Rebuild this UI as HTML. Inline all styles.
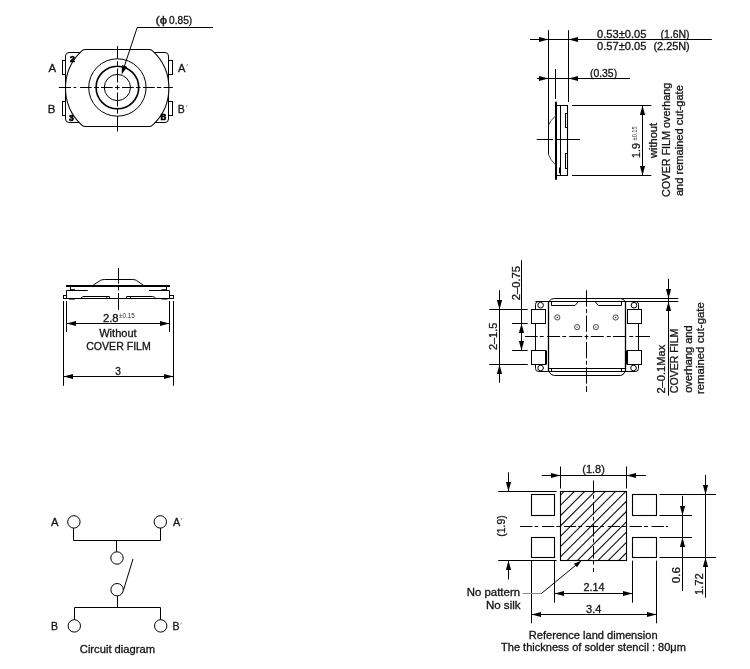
<!DOCTYPE html>
<html><head><meta charset="utf-8"><style>
html,body{margin:0;padding:0;background:#fff;width:750px;height:669px;overflow:hidden}
svg{display:block;will-change:transform}
text{font-family:"Liberation Sans",sans-serif}
</style></head><body>
<svg width="750" height="669" viewBox="0 0 750 669">
<rect width="750" height="669" fill="#fff"/>
<rect x="65.5" y="52.5" width="103" height="70" fill="none" stroke="#000" stroke-width="1" rx="3.5"/>
<rect x="62.5" y="60.5" width="3.0" height="14.0" fill="none" stroke="#000" stroke-width="1"/>
<rect x="62.5" y="101.5" width="3.0" height="14.0" fill="none" stroke="#000" stroke-width="1"/>
<rect x="168.5" y="60.5" width="4.0" height="14.0" fill="none" stroke="#000" stroke-width="1"/>
<rect x="168.5" y="101.5" width="4.0" height="14.0" fill="none" stroke="#000" stroke-width="1"/>
<path d="M 85 49.5 L 149.4 49.5 Q 151.4 49.5 153.4 51.6 A 50.5 50.5 0 0 1 153.4 124.4 Q 151.4 126.5 149.4 126.5 L 85 126.5 Q 83 126.5 81 124.4 A 50.5 50.5 0 0 1 81 51.6 Q 83 49.5 85 49.5 Z" fill="#fff" stroke="#000" stroke-width="1.05"/>
<circle cx="117.4" cy="87.5" r="28.7" fill="none" stroke="#000" stroke-width="1"/>
<circle cx="117.4" cy="87.5" r="21.3" fill="none" stroke="#000" stroke-width="1.6"/>
<circle cx="117.4" cy="87.5" r="13.1" fill="none" stroke="#000" stroke-width="1"/>
<line x1="58.9" y1="87.5" x2="71" y2="87.5" stroke="#000" stroke-width="1"/>
<line x1="73.6" y1="87.5" x2="76.2" y2="87.5" stroke="#000" stroke-width="1"/>
<line x1="80.1" y1="87.5" x2="91.7" y2="87.5" stroke="#000" stroke-width="1"/>
<line x1="94.1" y1="87.5" x2="98.9" y2="87.5" stroke="#000" stroke-width="1"/>
<line x1="101" y1="87.5" x2="112.7" y2="87.5" stroke="#000" stroke-width="1"/>
<line x1="115.1" y1="87.5" x2="119.6" y2="87.5" stroke="#000" stroke-width="1"/>
<line x1="122.1" y1="87.5" x2="133.8" y2="87.5" stroke="#000" stroke-width="1"/>
<line x1="136" y1="87.5" x2="140.6" y2="87.5" stroke="#000" stroke-width="1"/>
<line x1="143" y1="87.5" x2="154.7" y2="87.5" stroke="#000" stroke-width="1"/>
<line x1="156.9" y1="87.5" x2="161.3" y2="87.5" stroke="#000" stroke-width="1"/>
<line x1="163.6" y1="87.5" x2="172.8" y2="87.5" stroke="#000" stroke-width="1"/>
<line x1="117.5" y1="46.1" x2="117.5" y2="58.8" stroke="#000" stroke-width="1"/>
<line x1="117.5" y1="61.3" x2="117.5" y2="65.7" stroke="#000" stroke-width="1"/>
<line x1="117.5" y1="68.5" x2="117.5" y2="82.4" stroke="#000" stroke-width="1"/>
<line x1="117.5" y1="85.2" x2="117.5" y2="89.8" stroke="#000" stroke-width="1"/>
<line x1="117.5" y1="92.6" x2="117.5" y2="106.5" stroke="#000" stroke-width="1"/>
<line x1="117.5" y1="109.1" x2="117.5" y2="113.6" stroke="#000" stroke-width="1"/>
<line x1="117.5" y1="116.2" x2="117.5" y2="131.5" stroke="#000" stroke-width="1"/>
<line x1="137.2" y1="27.5" x2="213" y2="27.5" stroke="#000" stroke-width="1"/>
<line x1="137.2" y1="27.5" x2="123.6" y2="68.6" stroke="#000" stroke-width="1"/>
<polygon points="121.70,74.40 121.87,64.98 127.18,66.73" fill="#000"/>
<line x1="548.5" y1="30.2" x2="548.5" y2="154.5" stroke="#000" stroke-width="1"/>
<line x1="568.5" y1="30.2" x2="568.5" y2="102" stroke="#000" stroke-width="1"/>
<line x1="530" y1="39.5" x2="711.8" y2="39.5" stroke="#000" stroke-width="1"/>
<polygon points="548.50,39.50 539.00,42.10 539.00,36.90" fill="#000"/>
<polygon points="568.50,39.50 578.00,36.90 578.00,42.10" fill="#000"/>
<line x1="537" y1="78.5" x2="630" y2="78.5" stroke="#000" stroke-width="1"/>
<polygon points="548.50,78.50 539.00,81.10 539.00,75.90" fill="#000"/>
<polygon points="568.50,78.50 578.00,75.90 578.00,81.10" fill="#000"/>
<line x1="555.5" y1="69" x2="555.5" y2="99" stroke="#000" stroke-width="1"/>
<line x1="556.0" y1="101.8" x2="556.0" y2="179.7" stroke="#000" stroke-width="2"/>
<path d="M 556 105.5 L 567.5 105.5 L 567.5 175.5 L 556 175.5" fill="none" stroke="#000" stroke-width="1.1"/>
<line x1="560.5" y1="105.5" x2="560.5" y2="175.5" stroke="#000" stroke-width="1"/>
<line x1="559.5" y1="167.5" x2="559.5" y2="173.3" stroke="#000" stroke-width="1"/>
<rect x="565.5" y="113.5" width="2.0" height="14.0" fill="none" stroke="#000" stroke-width="1"/>
<rect x="565.5" y="153.5" width="2.0" height="15.0" fill="none" stroke="#000" stroke-width="1"/>
<path d="M 555.8 115.8 Q 550 120.5 548.5 125.3 M 548.5 154.5 Q 550 159.5 555.8 165.3" fill="none" stroke="#444" stroke-width="1"/>
<line x1="536.7" y1="139.5" x2="553" y2="139.5" stroke="#000" stroke-width="1"/>
<line x1="557" y1="139.5" x2="580" y2="139.5" stroke="#000" stroke-width="1"/>
<line x1="572.1" y1="105.5" x2="651.3" y2="105.5" stroke="#000" stroke-width="1"/>
<line x1="572.1" y1="175.5" x2="651.3" y2="175.5" stroke="#000" stroke-width="1"/>
<line x1="642.5" y1="105.5" x2="642.5" y2="175.5" stroke="#000" stroke-width="1"/>
<polygon points="642.50,105.50 645.10,115.00 639.90,115.00" fill="#000"/>
<polygon points="642.50,175.50 639.90,166.00 645.10,166.00" fill="#000"/>
<line x1="118.5" y1="267.9" x2="118.5" y2="283.7" stroke="#000" stroke-width="1"/>
<line x1="118.5" y1="285.5" x2="118.5" y2="290.5" stroke="#000" stroke-width="1"/>
<line x1="118.5" y1="293" x2="118.5" y2="309.9" stroke="#000" stroke-width="1"/>
<line x1="66" y1="286.0" x2="170" y2="286.0" stroke="#000" stroke-width="2"/>
<path d="M 93.3 285 L 100.5 280.4 Q 102 279.5 104.5 279.5 L 132.7 279.5 Q 135 279.5 136.5 280.4 L 143 285" fill="none" stroke="#000" stroke-width="1"/>
<line x1="70.5" y1="287" x2="70.5" y2="290.5" stroke="#000" stroke-width="1"/>
<line x1="66.5" y1="290.5" x2="87.7" y2="290.5" stroke="#000" stroke-width="1"/>
<line x1="70.5" y1="289.8" x2="75" y2="289.8" stroke="#000" stroke-width="1.2"/>
<line x1="149" y1="290.5" x2="169.5" y2="290.5" stroke="#000" stroke-width="1"/>
<line x1="166.5" y1="287" x2="166.5" y2="290.5" stroke="#000" stroke-width="1"/>
<line x1="161.5" y1="289.8" x2="166.5" y2="289.8" stroke="#000" stroke-width="1.2"/>
<path d="M 66.5 290.5 L 66.5 298.5 L 169.5 298.5 L 169.5 290.5" fill="none" stroke="#000" stroke-width="1"/>
<rect x="63.5" y="295.5" width="3.0" height="3.0" fill="none" stroke="#000" stroke-width="1"/>
<rect x="169.5" y="295.5" width="4.0" height="3.0" fill="none" stroke="#000" stroke-width="1"/>
<line x1="69" y1="298.8" x2="75" y2="298.8" stroke="#000" stroke-width="1.5"/>
<line x1="161.5" y1="298.8" x2="167.5" y2="298.8" stroke="#000" stroke-width="1.5"/>
<path d="M 81 298.2 Q 82 296.5 84 296.5 L 109.5 296.5 L 109.5 298.5 M 106.8 296.5 L 106.8 298.5" fill="none" stroke="#000" stroke-width="1"/>
<path d="M 155.5 298.2 Q 154.5 296.5 152.5 296.5 L 126.5 296.5 L 126.5 298.5 M 130.6 296.5 L 130.6 298.5" fill="none" stroke="#000" stroke-width="1"/>
<line x1="63.5" y1="301" x2="63.5" y2="385.8" stroke="#000" stroke-width="1"/>
<line x1="173.5" y1="301" x2="173.5" y2="385.8" stroke="#000" stroke-width="1"/>
<line x1="66.5" y1="301" x2="66.5" y2="332" stroke="#000" stroke-width="1"/>
<line x1="169.5" y1="301" x2="169.5" y2="332" stroke="#000" stroke-width="1"/>
<line x1="66.5" y1="323.5" x2="169.5" y2="323.5" stroke="#000" stroke-width="1"/>
<polygon points="66.50,323.50 76.00,320.90 76.00,326.10" fill="#000"/>
<polygon points="169.50,323.50 160.00,326.10 160.00,320.90" fill="#000"/>
<line x1="63.5" y1="376.5" x2="173.5" y2="376.5" stroke="#000" stroke-width="1"/>
<polygon points="63.50,376.50 73.00,373.90 73.00,379.10" fill="#000"/>
<polygon points="173.50,376.50 164.00,379.10 164.00,373.90" fill="#000"/>
<path d="M 548.5 301.5 L 538.5 301.5 Q 535.5 301.5 535.5 304.5 L 535.5 368.5 Q 535.5 371.5 538.5 371.5 L 548.5 371.5" fill="none" stroke="#000" stroke-width="1"/>
<path d="M 625.5 301.5 L 635.5 301.5 Q 638.5 301.5 638.5 304.5 L 638.5 368.5 Q 638.5 371.5 635.5 371.5 L 625.5 371.5" fill="none" stroke="#000" stroke-width="1"/>
<circle cx="540.6" cy="305.2" r="2.8" fill="none" stroke="#000" stroke-width="1"/>
<circle cx="540.6" cy="368" r="2.8" fill="none" stroke="#000" stroke-width="1"/>
<circle cx="634" cy="305.2" r="2.8" fill="none" stroke="#000" stroke-width="1"/>
<circle cx="633.5" cy="368" r="2.8" fill="none" stroke="#000" stroke-width="1"/>
<rect x="531.5" y="309.5" width="14.0" height="14.0" fill="#fff" stroke="#000" stroke-width="1"/>
<rect x="531.5" y="350.5" width="14.0" height="14.0" fill="#fff" stroke="#000" stroke-width="1"/>
<rect x="627.5" y="309.5" width="14.0" height="14.0" fill="#fff" stroke="#000" stroke-width="1"/>
<rect x="627.5" y="350.5" width="14.0" height="14.0" fill="#fff" stroke="#000" stroke-width="1"/>
<line x1="546.5" y1="350.5" x2="546.5" y2="364.5" stroke="#000" stroke-width="1"/>
<line x1="626.5" y1="350.5" x2="626.5" y2="364.5" stroke="#000" stroke-width="1"/>
<line x1="548.5" y1="301.5" x2="548.5" y2="371.5" stroke="#000" stroke-width="1.3"/>
<line x1="625.5" y1="301.5" x2="625.5" y2="371.5" stroke="#000" stroke-width="1.3"/>
<path d="M 548.8 301.5 Q 551 298.5 554.3 298.5 L 620.5 298.5 Q 623.5 298.5 625 301.5" fill="none" stroke="#000" stroke-width="1"/>
<line x1="535.5" y1="301.5" x2="678.3" y2="301.5" stroke="#000" stroke-width="1"/>
<line x1="620.8" y1="298.5" x2="678.3" y2="298.5" stroke="#000" stroke-width="1"/>
<path d="M 551.5 301.5 L 551.5 305.5 L 575 305.5 L 578.5 301.5 M 595 301.5 L 598.5 305.5 L 621.5 305.5 L 621.5 301.5" fill="none" stroke="#000" stroke-width="1"/>
<line x1="548.5" y1="368.5" x2="625.5" y2="368.5" stroke="#000" stroke-width="1"/>
<line x1="548.5" y1="371.5" x2="625.5" y2="371.5" stroke="#000" stroke-width="1"/>
<line x1="551.5" y1="368.5" x2="551.5" y2="371.5" stroke="#000" stroke-width="1"/>
<line x1="621.5" y1="368.5" x2="621.5" y2="371.5" stroke="#000" stroke-width="1"/>
<path d="M 548.8 371.5 Q 551 375.5 554.3 375.5 L 620.5 375.5 Q 623.5 375.5 625 371.5" fill="none" stroke="#000" stroke-width="1"/>
<circle cx="557.3" cy="317.4" r="2.6" fill="none" stroke="#333" stroke-width="0.9"/>
<circle cx="557.3" cy="317.4" r="0.7" fill="#222"/>
<circle cx="577.1" cy="327.1" r="2.6" fill="none" stroke="#333" stroke-width="0.9"/>
<circle cx="577.1" cy="327.1" r="0.7" fill="#222"/>
<circle cx="595.9" cy="327.1" r="2.6" fill="none" stroke="#333" stroke-width="0.9"/>
<circle cx="595.9" cy="327.1" r="0.7" fill="#222"/>
<circle cx="615.6" cy="317.5" r="2.6" fill="none" stroke="#333" stroke-width="0.9"/>
<circle cx="615.6" cy="317.5" r="0.7" fill="#222"/>
<line x1="586.5" y1="290.3" x2="586.5" y2="306.6" stroke="#000" stroke-width="1"/>
<line x1="586.5" y1="309" x2="586.5" y2="312.9" stroke="#000" stroke-width="1"/>
<line x1="586.5" y1="315.6" x2="586.5" y2="331.9" stroke="#000" stroke-width="1"/>
<line x1="586.5" y1="334.6" x2="586.5" y2="339.3" stroke="#000" stroke-width="1"/>
<line x1="586.5" y1="342" x2="586.5" y2="358.3" stroke="#000" stroke-width="1"/>
<line x1="586.5" y1="360.8" x2="586.5" y2="364.7" stroke="#000" stroke-width="1"/>
<line x1="586.5" y1="367.4" x2="586.5" y2="383.7" stroke="#000" stroke-width="1"/>
<line x1="586.5" y1="386.2" x2="586.5" y2="392" stroke="#000" stroke-width="1"/>
<line x1="525" y1="336.5" x2="537.6" y2="336.5" stroke="#000" stroke-width="1"/>
<line x1="539.8" y1="336.5" x2="543.7" y2="336.5" stroke="#000" stroke-width="1"/>
<line x1="547.1" y1="336.5" x2="560.1" y2="336.5" stroke="#000" stroke-width="1"/>
<line x1="562.3" y1="336.5" x2="566.2" y2="336.5" stroke="#000" stroke-width="1"/>
<line x1="569.2" y1="336.5" x2="582.2" y2="336.5" stroke="#000" stroke-width="1"/>
<line x1="584.6" y1="336.5" x2="588.4" y2="336.5" stroke="#000" stroke-width="1"/>
<line x1="590.8" y1="336.5" x2="603.8" y2="336.5" stroke="#000" stroke-width="1"/>
<line x1="606.8" y1="336.5" x2="610.7" y2="336.5" stroke="#000" stroke-width="1"/>
<line x1="612.9" y1="336.5" x2="625.9" y2="336.5" stroke="#000" stroke-width="1"/>
<line x1="629.3" y1="336.5" x2="633.2" y2="336.5" stroke="#000" stroke-width="1"/>
<line x1="635.4" y1="336.5" x2="650" y2="336.5" stroke="#000" stroke-width="1"/>
<line x1="499.5" y1="290.1" x2="499.5" y2="382.7" stroke="#000" stroke-width="1"/>
<polygon points="499.50,309.50 496.90,300.00 502.10,300.00" fill="#000"/>
<polygon points="499.50,364.50 502.10,374.00 496.90,374.00" fill="#000"/>
<line x1="489.2" y1="309.5" x2="527.7" y2="309.5" stroke="#000" stroke-width="1"/>
<line x1="489.2" y1="364.5" x2="527.7" y2="364.5" stroke="#000" stroke-width="1"/>
<line x1="521.5" y1="260.2" x2="521.5" y2="350.5" stroke="#000" stroke-width="1"/>
<polygon points="521.50,323.50 524.10,333.00 518.90,333.00" fill="#000"/>
<polygon points="521.50,350.50 518.90,341.00 524.10,341.00" fill="#000"/>
<line x1="512.1" y1="323.5" x2="527.7" y2="323.5" stroke="#000" stroke-width="1"/>
<line x1="512.1" y1="350.5" x2="527.7" y2="350.5" stroke="#000" stroke-width="1"/>
<line x1="668.5" y1="278.8" x2="668.5" y2="395.6" stroke="#000" stroke-width="1"/>
<polygon points="668.50,298.50 665.90,289.00 671.10,289.00" fill="#000"/>
<polygon points="668.50,301.50 671.10,311.00 665.90,311.00" fill="#000"/>
<circle cx="73.9" cy="521.9" r="6.2" fill="none" stroke="#000" stroke-width="1"/>
<circle cx="160.3" cy="521.9" r="6.2" fill="none" stroke="#000" stroke-width="1"/>
<circle cx="117" cy="558" r="6.2" fill="none" stroke="#000" stroke-width="1"/>
<circle cx="117.1" cy="589.7" r="6.2" fill="none" stroke="#000" stroke-width="1"/>
<circle cx="74.3" cy="625.9" r="6.2" fill="none" stroke="#000" stroke-width="1"/>
<circle cx="160.7" cy="625.9" r="6.2" fill="none" stroke="#000" stroke-width="1"/>
<path d="M 73.5 528 L 73.5 540.5 L 160.5 540.5 L 160.5 528" fill="none" stroke="#000" stroke-width="1"/>
<line x1="116.5" y1="540.5" x2="116.5" y2="551.8" stroke="#000" stroke-width="1"/>
<path d="M 74.5 619.7 L 74.5 607.5 L 160.5 607.5 L 160.5 619.7" fill="none" stroke="#000" stroke-width="1"/>
<line x1="117.5" y1="596" x2="117.5" y2="607.5" stroke="#000" stroke-width="1"/>
<line x1="123.5" y1="590" x2="133" y2="558.9" stroke="#000" stroke-width="1"/>
<defs><clipPath id="hc"><rect x="560.5" y="491.5" width="66" height="69"/></clipPath></defs>
<g clip-path="url(#hc)"><path d="M 383.4 600 L 533.4 450" stroke="#111" stroke-width="1.1"/><path d="M 393.7 600 L 543.7 450" stroke="#111" stroke-width="1.1"/><path d="M 404.0 600 L 554.0 450" stroke="#111" stroke-width="1.1"/><path d="M 414.3 600 L 564.3 450" stroke="#111" stroke-width="1.1"/><path d="M 424.6 600 L 574.6 450" stroke="#111" stroke-width="1.1"/><path d="M 434.9 600 L 584.9 450" stroke="#111" stroke-width="1.1"/><path d="M 445.2 600 L 595.2 450" stroke="#111" stroke-width="1.1"/><path d="M 455.5 600 L 605.5 450" stroke="#111" stroke-width="1.1"/><path d="M 465.8 600 L 615.8 450" stroke="#111" stroke-width="1.1"/><path d="M 476.1 600 L 626.1 450" stroke="#111" stroke-width="1.1"/><path d="M 486.4 600 L 636.4 450" stroke="#111" stroke-width="1.1"/><path d="M 496.7 600 L 646.7 450" stroke="#111" stroke-width="1.1"/><path d="M 507.0 600 L 657.0 450" stroke="#111" stroke-width="1.1"/><path d="M 517.3 600 L 667.3 450" stroke="#111" stroke-width="1.1"/><path d="M 527.6 600 L 677.6 450" stroke="#111" stroke-width="1.1"/><path d="M 537.9 600 L 687.9 450" stroke="#111" stroke-width="1.1"/><path d="M 548.2 600 L 698.2 450" stroke="#111" stroke-width="1.1"/><path d="M 558.5 600 L 708.5 450" stroke="#111" stroke-width="1.1"/><path d="M 568.8 600 L 718.8 450" stroke="#111" stroke-width="1.1"/><path d="M 579.1 600 L 729.1 450" stroke="#111" stroke-width="1.1"/><path d="M 589.4 600 L 739.4 450" stroke="#111" stroke-width="1.1"/><path d="M 599.7 600 L 749.7 450" stroke="#111" stroke-width="1.1"/><path d="M 610.0 600 L 760.0 450" stroke="#111" stroke-width="1.1"/><path d="M 620.3 600 L 770.3 450" stroke="#111" stroke-width="1.1"/></g>
<rect x="560.5" y="491.5" width="66.0" height="69.0" fill="none" stroke="#000" stroke-width="1.1"/>
<rect x="531.5" y="494.5" width="23.0" height="21.0" fill="none" stroke="#000" stroke-width="1.1"/>
<rect x="531.5" y="537.5" width="23.0" height="20.0" fill="none" stroke="#000" stroke-width="1.1"/>
<rect x="632.5" y="494.5" width="24.0" height="21.0" fill="none" stroke="#000" stroke-width="1.1"/>
<rect x="632.5" y="537.5" width="24.0" height="20.0" fill="none" stroke="#000" stroke-width="1.1"/>
<line x1="520.1" y1="526.5" x2="532.4" y2="526.5" stroke="#000" stroke-width="1"/>
<line x1="534.5" y1="526.5" x2="538.3" y2="526.5" stroke="#000" stroke-width="1"/>
<line x1="542" y1="526.5" x2="554.3" y2="526.5" stroke="#000" stroke-width="1"/>
<line x1="556.4" y1="526.5" x2="560.2" y2="526.5" stroke="#000" stroke-width="1"/>
<line x1="563.9" y1="526.5" x2="576.2" y2="526.5" stroke="#000" stroke-width="1"/>
<line x1="578.3" y1="526.5" x2="582.1" y2="526.5" stroke="#000" stroke-width="1"/>
<line x1="585.8" y1="526.5" x2="598.1" y2="526.5" stroke="#000" stroke-width="1"/>
<line x1="600.2" y1="526.5" x2="604" y2="526.5" stroke="#000" stroke-width="1"/>
<line x1="607.7" y1="526.5" x2="620" y2="526.5" stroke="#000" stroke-width="1"/>
<line x1="622.1" y1="526.5" x2="625.9" y2="526.5" stroke="#000" stroke-width="1"/>
<line x1="629.6" y1="526.5" x2="641.9" y2="526.5" stroke="#000" stroke-width="1"/>
<line x1="644" y1="526.5" x2="647.8" y2="526.5" stroke="#000" stroke-width="1"/>
<line x1="651.5" y1="526.5" x2="663.8" y2="526.5" stroke="#000" stroke-width="1"/>
<line x1="665.9" y1="526.5" x2="668" y2="526.5" stroke="#000" stroke-width="1"/>
<line x1="593.5" y1="480.5" x2="593.5" y2="492.8" stroke="#000" stroke-width="1"/>
<line x1="593.5" y1="494.9" x2="593.5" y2="498.7" stroke="#000" stroke-width="1"/>
<line x1="593.5" y1="502.4" x2="593.5" y2="514.7" stroke="#000" stroke-width="1"/>
<line x1="593.5" y1="516.8" x2="593.5" y2="520.6" stroke="#000" stroke-width="1"/>
<line x1="593.5" y1="524.3" x2="593.5" y2="536.6" stroke="#000" stroke-width="1"/>
<line x1="593.5" y1="538.7" x2="593.5" y2="542.5" stroke="#000" stroke-width="1"/>
<line x1="593.5" y1="546.2" x2="593.5" y2="558.5" stroke="#000" stroke-width="1"/>
<line x1="593.5" y1="560.6" x2="593.5" y2="564.4" stroke="#000" stroke-width="1"/>
<line x1="593.5" y1="568.1" x2="593.5" y2="572" stroke="#000" stroke-width="1"/>
<line x1="498.2" y1="491.5" x2="556.6" y2="491.5" stroke="#000" stroke-width="1"/>
<line x1="498.2" y1="560.5" x2="556.6" y2="560.5" stroke="#000" stroke-width="1"/>
<line x1="508.5" y1="472.3" x2="508.5" y2="491.5" stroke="#000" stroke-width="1"/>
<polygon points="508.50,491.50 505.90,482.00 511.10,482.00" fill="#000"/>
<line x1="508.5" y1="560.5" x2="508.5" y2="579.5" stroke="#000" stroke-width="1"/>
<polygon points="508.50,560.50 511.10,570.00 505.90,570.00" fill="#000"/>
<line x1="560.5" y1="466.5" x2="560.5" y2="488.5" stroke="#000" stroke-width="1"/>
<line x1="626.5" y1="466.5" x2="626.5" y2="488.5" stroke="#000" stroke-width="1"/>
<line x1="541.8" y1="475.5" x2="645.9" y2="475.5" stroke="#000" stroke-width="1"/>
<polygon points="560.50,475.50 551.00,478.10 551.00,472.90" fill="#000"/>
<polygon points="626.50,475.50 636.00,472.90 636.00,478.10" fill="#000"/>
<line x1="659.5" y1="494.5" x2="716" y2="494.5" stroke="#000" stroke-width="1"/>
<line x1="659.5" y1="557.5" x2="716" y2="557.5" stroke="#000" stroke-width="1"/>
<line x1="659.5" y1="515.5" x2="692" y2="515.5" stroke="#000" stroke-width="1"/>
<line x1="659.5" y1="537.5" x2="692" y2="537.5" stroke="#000" stroke-width="1"/>
<line x1="682.5" y1="495.8" x2="682.5" y2="591" stroke="#000" stroke-width="1"/>
<polygon points="682.50,515.50 679.90,506.00 685.10,506.00" fill="#000"/>
<polygon points="682.50,537.50 685.10,547.00 679.90,547.00" fill="#000"/>
<line x1="705.5" y1="474.9" x2="705.5" y2="597.7" stroke="#000" stroke-width="1"/>
<polygon points="705.50,494.50 702.90,485.00 708.10,485.00" fill="#000"/>
<polygon points="705.50,557.50 708.10,567.00 702.90,567.00" fill="#000"/>
<line x1="531.5" y1="560.6" x2="531.5" y2="623.3" stroke="#000" stroke-width="1"/>
<line x1="554.5" y1="560.6" x2="554.5" y2="602.7" stroke="#000" stroke-width="1"/>
<line x1="632.5" y1="560.6" x2="632.5" y2="602.7" stroke="#000" stroke-width="1"/>
<line x1="656.5" y1="560.6" x2="656.5" y2="623.3" stroke="#000" stroke-width="1"/>
<line x1="554.5" y1="593.5" x2="632.5" y2="593.5" stroke="#000" stroke-width="1"/>
<polygon points="554.50,593.50 564.00,590.90 564.00,596.10" fill="#000"/>
<polygon points="632.50,593.50 623.00,596.10 623.00,590.90" fill="#000"/>
<line x1="531.5" y1="614.5" x2="656.5" y2="614.5" stroke="#000" stroke-width="1"/>
<polygon points="531.50,614.50 541.00,611.90 541.00,617.10" fill="#000"/>
<polygon points="656.50,614.50 647.00,617.10 647.00,611.90" fill="#000"/>
<line x1="522.7" y1="593.5" x2="541.4" y2="593.5" stroke="#8a8a8a" stroke-width="1"/>
<line x1="541.4" y1="593.5" x2="578.5" y2="563" stroke="#000" stroke-width="1"/>
<polygon points="581.60,560.40 576.95,567.34 573.90,563.63" fill="#000"/>
<text x="155.45" y="23.7" font-size="10.5" fill="#151515" stroke="#151515" stroke-width="0.3" textLength="11.74" lengthAdjust="spacingAndGlyphs">(&#981;</text>
<text x="169.0" y="23.7" font-size="10.5" fill="#151515" stroke="#151515" stroke-width="0.3" textLength="23.24" lengthAdjust="spacingAndGlyphs">0.85)</text>
<text x="48.5" y="71.8" font-size="10.5" fill="#151515" stroke="#151515" stroke-width="0.3" textLength="7.62" lengthAdjust="spacingAndGlyphs">A</text>
<text x="47.82" y="112.6" font-size="10.5" fill="#151515" stroke="#151515" stroke-width="0.3" textLength="7.6" lengthAdjust="spacingAndGlyphs">B</text>
<text x="177.9" y="71.9" font-size="10.5" fill="#151515" stroke="#151515" stroke-width="0.3" textLength="7.42" lengthAdjust="spacingAndGlyphs">A</text>
<text x="177.8" y="112.8" font-size="10.5" fill="#151515" stroke="#151515" stroke-width="0.3" textLength="7.02" lengthAdjust="spacingAndGlyphs">B</text>
<text x="69.9" y="61.8" font-size="8.5" font-weight="bold" fill="#000" stroke="#000" stroke-width="0.7" textLength="4.83" lengthAdjust="spacingAndGlyphs">2</text>
<text x="69.0" y="120.7" font-size="8.5" font-weight="bold" fill="#000" stroke="#000" stroke-width="0.7" textLength="4.73" lengthAdjust="spacingAndGlyphs">3</text>
<text x="160.6" y="120.4" font-size="8.5" font-weight="bold" fill="#000" stroke="#000" stroke-width="0.7" textLength="5.73" lengthAdjust="spacingAndGlyphs">B</text>
<text x="597.0" y="37.9" font-size="10.5" fill="#151515" stroke="#151515" stroke-width="0.3" textLength="49.38" lengthAdjust="spacingAndGlyphs">0.53&#177;0.05</text>
<text x="660.61" y="37.9" font-size="10.5" fill="#151515" stroke="#151515" stroke-width="0.3" textLength="28.98" lengthAdjust="spacingAndGlyphs">(1.6N)</text>
<text x="597.0" y="49.6" font-size="10.5" fill="#151515" stroke="#151515" stroke-width="0.3" textLength="49.38" lengthAdjust="spacingAndGlyphs">0.57&#177;0.05</text>
<text x="653.46" y="49.6" font-size="10.5" fill="#151515" stroke="#151515" stroke-width="0.3" textLength="36.25" lengthAdjust="spacingAndGlyphs">(2.25N)</text>
<text x="589.91" y="76.7" font-size="10.5" fill="#151515" stroke="#151515" stroke-width="0.3" textLength="27.23" lengthAdjust="spacingAndGlyphs">(0.35)</text>
<text x="639.6" y="157.91" font-size="10.5" fill="#151515" stroke="#151515" stroke-width="0.3" textLength="14.72" lengthAdjust="spacingAndGlyphs" transform="rotate(-90 639.6 157.91)">1.9</text>
<text x="636.6" y="140.4" font-size="6.3" fill="#333" textLength="13.95" lengthAdjust="spacingAndGlyphs" transform="rotate(-90 636.6 140.4)">&#177;0.15</text>
<text x="657.1" y="158.0" font-size="10.5" fill="#151515" stroke="#151515" stroke-width="0.3" textLength="35.1" lengthAdjust="spacingAndGlyphs" transform="rotate(-90 657.1 158.0)">without</text>
<text x="670.0" y="197.0" font-size="10.5" fill="#151515" stroke="#151515" stroke-width="0.3" textLength="114.22" lengthAdjust="spacingAndGlyphs" transform="rotate(-90 670.0 197.0)">COVER FILM overhang</text>
<text x="683.1" y="196.1" font-size="10.5" fill="#151515" stroke="#151515" stroke-width="0.3" textLength="110.98" lengthAdjust="spacingAndGlyphs" transform="rotate(-90 683.1 196.1)">and remained cut-gate</text>
<text x="102.9" y="321.7" font-size="10.5" fill="#151515" stroke="#151515" stroke-width="0.3" textLength="15.65" lengthAdjust="spacingAndGlyphs">2.8</text>
<text x="119.0" y="317.8" font-size="6.3" fill="#333" textLength="15.72" lengthAdjust="spacingAndGlyphs">&#177;0.15</text>
<text x="99.2" y="336.7" font-size="10.5" fill="#151515" stroke="#151515" stroke-width="0.3" textLength="37.49" lengthAdjust="spacingAndGlyphs">Without</text>
<text x="86.2" y="349.6" font-size="10.5" fill="#151515" stroke="#151515" stroke-width="0.3" textLength="64.59" lengthAdjust="spacingAndGlyphs">COVER FILM</text>
<text x="115.2" y="374.7" font-size="10.5" fill="#151515" stroke="#151515" stroke-width="0.3" textLength="5.65" lengthAdjust="spacingAndGlyphs">3</text>
<text x="519.9" y="300.2" font-size="10.5" fill="#151515" stroke="#151515" stroke-width="0.3" textLength="34.13" lengthAdjust="spacingAndGlyphs" transform="rotate(-90 519.9 300.2)">2&#8211;0.75</text>
<text x="496.7" y="350.0" font-size="10.5" fill="#151515" stroke="#151515" stroke-width="0.3" textLength="27.29" lengthAdjust="spacingAndGlyphs" transform="rotate(-90 496.7 350.0)">2&#8211;1.5</text>
<text x="664.8" y="393.6" font-size="10.5" fill="#151515" stroke="#151515" stroke-width="0.3" textLength="48.83" lengthAdjust="spacingAndGlyphs" transform="rotate(-90 664.8 393.6)">2&#8211;0.1Max</text>
<text x="678.4" y="393.2" font-size="10.5" fill="#151515" stroke="#151515" stroke-width="0.3" textLength="64.59" lengthAdjust="spacingAndGlyphs" transform="rotate(-90 678.4 393.2)">COVER FILM</text>
<text x="691.6" y="392.8" font-size="10.5" fill="#151515" stroke="#151515" stroke-width="0.3" textLength="67.45" lengthAdjust="spacingAndGlyphs" transform="rotate(-90 691.6 392.8)">overhang and</text>
<text x="704.4" y="394.09" font-size="10.5" fill="#151515" stroke="#151515" stroke-width="0.3" textLength="91.98" lengthAdjust="spacingAndGlyphs" transform="rotate(-90 704.4 394.09)">remained cut-gate</text>
<text x="51.1" y="525.7" font-size="10.5" fill="#151515" stroke="#151515" stroke-width="0.3" textLength="7.52" lengthAdjust="spacingAndGlyphs">A</text>
<text x="172.9" y="525.7" font-size="10.5" fill="#151515" stroke="#151515" stroke-width="0.3" textLength="7.22" lengthAdjust="spacingAndGlyphs">A</text>
<text x="51.1" y="629.9" font-size="10.5" fill="#151515" stroke="#151515" stroke-width="0.3" textLength="7.02" lengthAdjust="spacingAndGlyphs">B</text>
<text x="172.4" y="629.9" font-size="10.5" fill="#151515" stroke="#151515" stroke-width="0.3" textLength="7.02" lengthAdjust="spacingAndGlyphs">B</text>
<text x="79.8" y="652.7" font-size="10.5" fill="#151515" stroke="#151515" stroke-width="0.3" textLength="75.25" lengthAdjust="spacingAndGlyphs">Circuit diagram</text>
<text x="504.6" y="536.8" font-size="10.5" fill="#151515" stroke="#151515" stroke-width="0.3" textLength="21.59" lengthAdjust="spacingAndGlyphs" transform="rotate(-90 504.6 536.8)">(1.9)</text>
<text x="582.36" y="472.7" font-size="10.5" fill="#151515" stroke="#151515" stroke-width="0.3" textLength="22.46" lengthAdjust="spacingAndGlyphs">(1.8)</text>
<text x="680.1" y="583.2" font-size="10.5" fill="#151515" stroke="#151515" stroke-width="0.3" textLength="16.17" lengthAdjust="spacingAndGlyphs" transform="rotate(-90 680.1 583.2)">0.6</text>
<text x="703.2" y="595.06" font-size="10.5" fill="#151515" stroke="#151515" stroke-width="0.3" textLength="21.73" lengthAdjust="spacingAndGlyphs" transform="rotate(-90 703.2 595.06)">1.72</text>
<text x="583.4" y="590.9" font-size="10.5" fill="#151515" stroke="#151515" stroke-width="0.3" textLength="21.05" lengthAdjust="spacingAndGlyphs">2.14</text>
<text x="586.1" y="612.7" font-size="10.5" fill="#151515" stroke="#151515" stroke-width="0.3" textLength="15.34" lengthAdjust="spacingAndGlyphs">3.4</text>
<text x="466.81" y="595.6" font-size="10.5" fill="#151515" stroke="#151515" stroke-width="0.3" textLength="53.22" lengthAdjust="spacingAndGlyphs">No pattern</text>
<text x="485.9" y="608.6" font-size="10.5" fill="#151515" stroke="#151515" stroke-width="0.3" textLength="34.67" lengthAdjust="spacingAndGlyphs">No silk</text>
<text x="528.84" y="638.7" font-size="10.5" fill="#151515" stroke="#151515" stroke-width="0.3" textLength="128.76" lengthAdjust="spacingAndGlyphs">Reference land dimension</text>
<text x="501.0" y="651.4" font-size="10.5" fill="#151515" stroke="#151515" stroke-width="0.3" textLength="184.87" lengthAdjust="spacingAndGlyphs">The thickness of solder stencil : 80&#956;m</text>
<line x1="187.5" y1="64.2" x2="186.6" y2="66.0" stroke="#666" stroke-width="0.8"/>
<line x1="187.1" y1="105.2" x2="186.2" y2="107.0" stroke="#666" stroke-width="0.8"/>
<line x1="182.1" y1="518.0" x2="181.2" y2="519.8" stroke="#666" stroke-width="0.8"/>
<line x1="181.5" y1="622.6" x2="180.6" y2="624.4" stroke="#666" stroke-width="0.8"/>
</svg></body></html>
